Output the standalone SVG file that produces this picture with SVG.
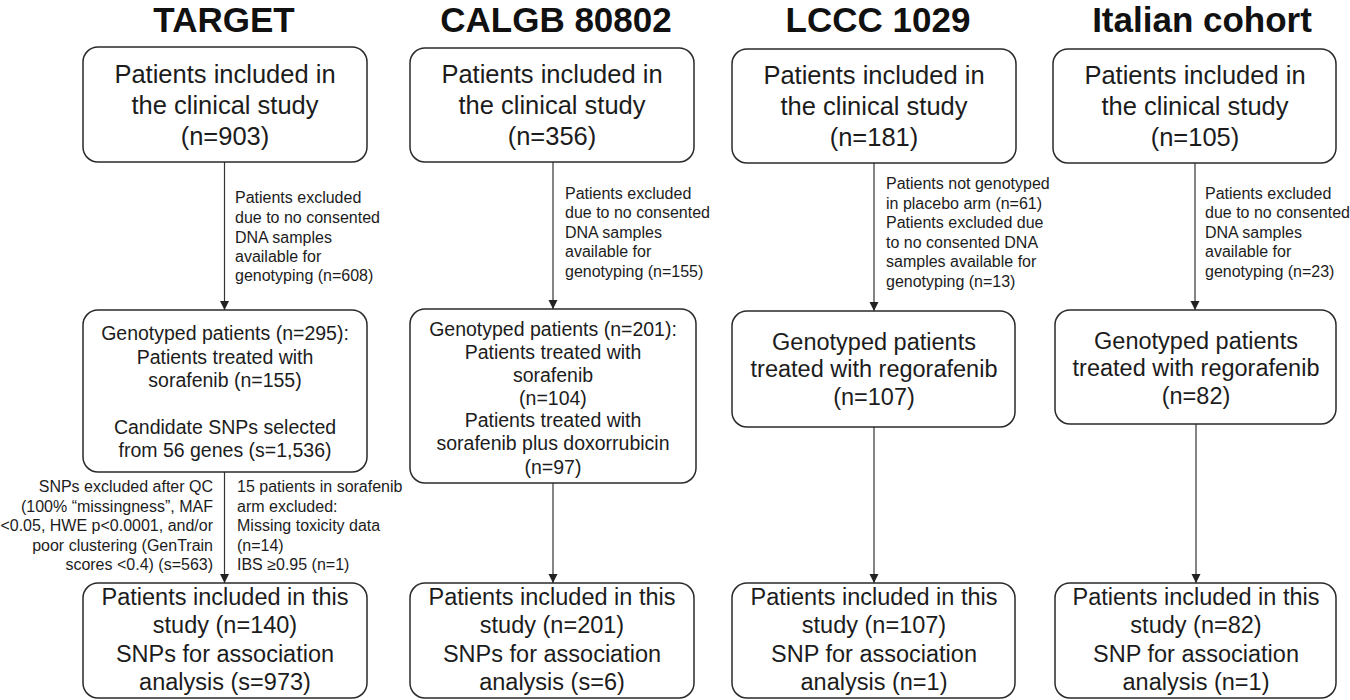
<svg xmlns="http://www.w3.org/2000/svg" width="1350" height="700" viewBox="0 0 1350 700">
<defs>
<style>
text{font-family:"Liberation Sans",Arial,Helvetica,sans-serif;fill:#1c1c1c}
.title{font-size:35px;font-weight:bold;text-anchor:middle;fill:#111}
.big{font-size:25.5px;text-anchor:middle}
.mid{font-size:23.5px;text-anchor:middle}
.gen{font-size:19.5px;text-anchor:middle}
.note{font-size:16px}
.noteR{font-size:16px;text-anchor:end}
.box{fill:#fff;stroke:#2a2a2a;stroke-width:1.5}
.conn{stroke:#333;stroke-width:1.2;fill:none}
</style>
<marker id="arr" markerWidth="10" markerHeight="10" refX="9" refY="5" orient="auto" markerUnits="userSpaceOnUse">
<path d="M0,0.5 L9,5 L0,9.5 Z" fill="#222"/>
</marker>
</defs>
<rect width="1350" height="700" fill="#fff"/>

<g id="titles">
<text class="title" x="224" y="32">TARGET</text>
<text class="title" x="556" y="32">CALGB 80802</text>
<text class="title" x="878" y="32">LCCC 1029</text>
<text class="title" x="1202" y="32">Italian cohort</text>
</g>

<g id="connectors">
<line class="conn" x1="224.5" y1="162" x2="224.5" y2="310" marker-end="url(#arr)"/>
<line class="conn" x1="553" y1="162" x2="553" y2="309" marker-end="url(#arr)"/>
<line class="conn" x1="874" y1="163" x2="874" y2="311" marker-end="url(#arr)"/>
<line class="conn" x1="1195" y1="163" x2="1195" y2="310" marker-end="url(#arr)"/>
<line class="conn" x1="224.5" y1="472" x2="224.5" y2="583" marker-end="url(#arr)"/>
<line class="conn" x1="553" y1="483" x2="553" y2="583" marker-end="url(#arr)"/>
<line class="conn" x1="874" y1="427" x2="874" y2="583" marker-end="url(#arr)"/>
<line class="conn" x1="1196" y1="424" x2="1196" y2="583" marker-end="url(#arr)"/>
</g>

<g id="notes">
<text class="note" x="235" y="203">Patients excluded</text>
<text class="note" x="235" y="223">due to no consented</text>
<text class="note" x="235" y="242.5">DNA samples</text>
<text class="note" x="235" y="262">available for</text>
<text class="note" x="235" y="281">genotyping (n=608)</text>

<text class="note" x="565" y="198.5">Patients excluded</text>
<text class="note" x="565" y="218">due to no consented</text>
<text class="note" x="565" y="237.5">DNA samples</text>
<text class="note" x="565" y="257">available for</text>
<text class="note" x="565" y="276.5">genotyping (n=155)</text>

<text class="note" x="886" y="189">Patients not genotyped</text>
<text class="note" x="886" y="209">in placebo arm (n=61)</text>
<text class="note" x="886" y="228">Patients excluded due</text>
<text class="note" x="886" y="248">to no consented DNA</text>
<text class="note" x="886" y="267">samples available for</text>
<text class="note" x="886" y="287">genotyping (n=13)</text>

<text class="note" x="1205" y="198.5">Patients excluded</text>
<text class="note" x="1205" y="218">due to no consented</text>
<text class="note" x="1205" y="237.5">DNA samples</text>
<text class="note" x="1205" y="257">available for</text>
<text class="note" x="1205" y="276.5">genotyping (n=23)</text>

<text class="noteR" x="213" y="492">SNPs excluded after QC</text>
<text class="noteR" x="213" y="512">(100% “missingness”, MAF</text>
<text class="noteR" x="213" y="531">&lt;0.05, HWE p&lt;0.0001, and/or</text>
<text class="noteR" x="213" y="551">poor clustering (GenTrain</text>
<text class="noteR" x="213" y="570">scores &lt;0.4) (s=563)</text>

<text class="note" x="237" y="492">15 patients in sorafenib</text>
<text class="note" x="237" y="512">arm excluded:</text>
<text class="note" x="237" y="531">Missing toxicity data</text>
<text class="note" x="237" y="551">(n=14)</text>
<text class="note" x="237" y="570">IBS ≥0.95 (n=1)</text>
</g>

<g id="target-included">
<rect class="box" x="83" y="47" width="284" height="115" rx="15"/>
<text class="big" x="225" y="83">Patients included in</text>
<text class="big" x="225" y="114">the clinical study</text>
<text class="big" x="225" y="145">(n=903)</text>
</g>
<g id="calgb-included">
<rect class="box" x="410" y="48" width="284" height="114" rx="15"/>
<text class="big" x="552" y="83">Patients included in</text>
<text class="big" x="552" y="114">the clinical study</text>
<text class="big" x="552" y="145">(n=356)</text>
</g>
<g id="lccc-included">
<rect class="box" x="732" y="49" width="284" height="114" rx="15"/>
<text class="big" x="874" y="84">Patients included in</text>
<text class="big" x="874" y="115">the clinical study</text>
<text class="big" x="874" y="146">(n=181)</text>
</g>
<g id="italian-included">
<rect class="box" x="1053" y="49" width="283" height="114" rx="15"/>
<text class="big" x="1195" y="84">Patients included in</text>
<text class="big" x="1195" y="115">the clinical study</text>
<text class="big" x="1195" y="146">(n=105)</text>
</g>

<g id="target-genotyped">
<rect class="box" x="83" y="310" width="284" height="162" rx="15"/>
<text class="gen" x="225" y="340">Genotyped patients (n=295):</text>
<text class="gen" x="225" y="364">Patients treated with</text>
<text class="gen" x="225" y="387">sorafenib (n=155)</text>
<text class="gen" x="225" y="434">Candidate SNPs selected</text>
<text class="gen" x="225" y="457">from 56 genes (s=1,536)</text>
</g>
<g id="calgb-genotyped">
<rect class="box" x="410" y="309" width="286" height="174" rx="15"/>
<text class="gen" x="553" y="336">Genotyped patients (n=201):</text>
<text class="gen" x="553" y="359">Patients treated with</text>
<text class="gen" x="553" y="382">sorafenib</text>
<text class="gen" x="553" y="405">(n=104)</text>
<text class="gen" x="553" y="427">Patients treated with</text>
<text class="gen" x="553" y="450">sorafenib plus doxorrubicin</text>
<text class="gen" x="553" y="474">(n=97)</text>
</g>
<g id="lccc-genotyped">
<rect class="box" x="732" y="311" width="283" height="116" rx="15"/>
<text class="mid" x="874" y="350">Genotyped patients</text>
<text class="mid" x="874" y="377">treated with regorafenib</text>
<text class="mid" x="874" y="405">(n=107)</text>
</g>
<g id="italian-genotyped">
<rect class="box" x="1055" y="310" width="281" height="114" rx="15"/>
<text class="mid" x="1196" y="349">Genotyped patients</text>
<text class="mid" x="1196" y="376">treated with regorafenib</text>
<text class="mid" x="1196" y="404">(n=82)</text>
</g>

<g id="target-study">
<rect class="box" x="83" y="583" width="284" height="115" rx="15"/>
<text class="mid" x="225" y="605">Patients included in this</text>
<text class="mid" x="225" y="633">study (n=140)</text>
<text class="mid" x="225" y="662">SNPs for association</text>
<text class="mid" x="225" y="690">analysis (s=973)</text>
</g>
<g id="calgb-study">
<rect class="box" x="410" y="583" width="284" height="115" rx="15"/>
<text class="mid" x="552" y="605">Patients included in this</text>
<text class="mid" x="552" y="633">study (n=201)</text>
<text class="mid" x="552" y="662">SNPs for association</text>
<text class="mid" x="552" y="690">analysis (s=6)</text>
</g>
<g id="lccc-study">
<rect class="box" x="732" y="583" width="283" height="115" rx="15"/>
<text class="mid" x="874" y="605">Patients included in this</text>
<text class="mid" x="874" y="633">study (n=107)</text>
<text class="mid" x="874" y="662">SNP for association</text>
<text class="mid" x="874" y="690">analysis (n=1)</text>
</g>
<g id="italian-study">
<rect class="box" x="1055" y="583" width="281" height="115" rx="15"/>
<text class="mid" x="1196" y="605">Patients included in this</text>
<text class="mid" x="1196" y="633">study (n=82)</text>
<text class="mid" x="1196" y="662">SNP for association</text>
<text class="mid" x="1196" y="690">analysis (n=1)</text>
</g>
</svg>
